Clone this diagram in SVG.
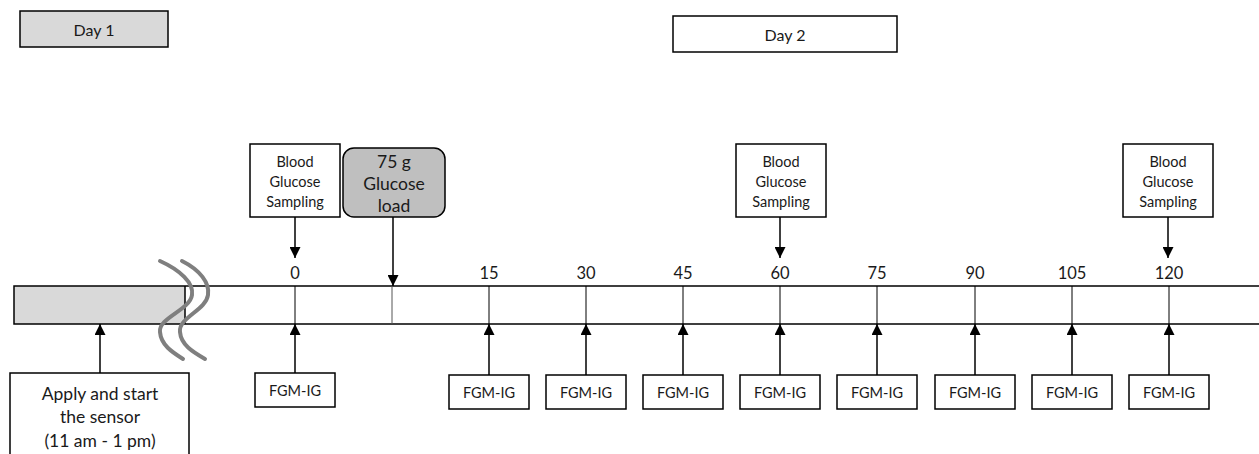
<svg xmlns="http://www.w3.org/2000/svg" width="1259" height="454" viewBox="0 0 1259 454">
<style>
text{font-family:Lato,"Liberation Sans",sans-serif;fill:#1a1a1a;text-anchor:middle;dominant-baseline:central}
.box{fill:#fff;stroke:#000;stroke-width:1.5}
.s12{font-size:14.5px}
.s13{font-size:14.5px}
.s14{font-size:16px}
.s15{font-size:16.5px}
.s17{font-size:17.5px}
.tick{stroke:#000;stroke-width:1}
.conn{stroke:#000;stroke-width:1.5;fill:none}
.brk{stroke:#7f7f7f;stroke-width:4;fill:none;stroke-linecap:round}
</style>
<defs>
<marker id="ah" viewBox="0 0 10 10" refX="10" refY="5" markerWidth="11" markerHeight="11" markerUnits="userSpaceOnUse" orient="auto">
<path d="M0,0 L10,5 L0,10 Z" fill="#000"/>
</marker>
</defs>
<rect width="1259" height="454" fill="#fff"/>

<g id="day1"><rect x="20" y="11" width="148" height="36" fill="#d9d9d9" stroke="#000" stroke-width="1.5"/><text x="94" y="29" class="s14">Day 1</text></g>
<g id="day2"><rect x="673" y="16" width="224" height="36" class="box"/><text x="785" y="34" class="s14">Day 2</text></g>

<g id="timeline">
<rect x="14" y="286" width="171" height="38" fill="#d9d9d9"/>
<path d="M1262,286 H14 V324 H1262" fill="none" stroke="#000" stroke-width="1.5"/>
<line x1="185" y1="286" x2="185" y2="324" stroke="#000" stroke-width="1.5"/>
<g class="tick">
<line x1="295" y1="286" x2="295" y2="324"/>
<line x1="392" y1="286" x2="392" y2="324" stroke="#555"/>
<line x1="489" y1="286" x2="489" y2="324"/>
<line x1="586" y1="286" x2="586" y2="324"/>
<line x1="683" y1="286" x2="683" y2="324"/>
<line x1="780" y1="286" x2="780" y2="324"/>
<line x1="877" y1="286" x2="877" y2="324"/>
<line x1="975" y1="286" x2="975" y2="324"/>
<line x1="1072" y1="286" x2="1072" y2="324"/>
<line x1="1169" y1="286" x2="1169" y2="324"/>
</g>
<path class="brk" d="M160,261 C180,270 194,283 192,295 C190,310 158,318 160,332 C161,345 172,352 183,359"/>
<path class="brk" d="M182,261 C200,270 210,283 208,295 C206,310 178,318 180,332 C181,345 193,352 205,359"/>
<g class="s15">
<text x="295" y="273">0</text>
<text x="489" y="273">15</text>
<text x="586" y="273">30</text>
<text x="683" y="273">45</text>
<text x="780" y="273">60</text>
<text x="877" y="273">75</text>
<text x="975" y="273">90</text>
<text x="1072" y="273">105</text>
<text x="1169" y="273">120</text>
</g>
</g>

<g id="bgs0"><rect x="250" y="144" width="90" height="73" class="box"/><text x="295" y="161" class="s12">Blood</text><text x="295" y="181" class="s12">Glucose</text><text x="295" y="201" class="s12">Sampling</text></g>
<g id="load"><rect x="343" y="148" width="102" height="69" rx="11" fill="#bfbfbf" stroke="#000" stroke-width="1.5"/><text x="394" y="161" class="s17">75 g</text><text x="394" y="183" class="s17">Glucose</text><text x="394" y="205" class="s17">load</text></g>
<g id="bgs60"><rect x="736" y="144" width="90" height="73" class="box"/><text x="781" y="161" class="s12">Blood</text><text x="781" y="181" class="s12">Glucose</text><text x="781" y="201" class="s12">Sampling</text></g>
<g id="bgs120"><rect x="1123" y="144" width="90" height="73" class="box"/><text x="1168" y="161" class="s12">Blood</text><text x="1168" y="181" class="s12">Glucose</text><text x="1168" y="201" class="s12">Sampling</text></g>

<g id="apply"><rect x="10" y="373" width="179" height="90" class="box"/><text x="100" y="393" class="s17">Apply and start</text><text x="100" y="416" class="s17">the sensor</text><text x="100" y="440" class="s17">(11 am - 1 pm)</text></g>

<g id="fgm0"><rect x="255" y="373" width="80" height="34" class="box"/><text x="295" y="390" class="s13">FGM-IG</text></g>
<g id="fgm15"><rect x="449" y="375" width="80" height="34" class="box"/><text x="489" y="392" class="s13">FGM-IG</text></g>
<g id="fgm30"><rect x="546" y="375" width="80" height="34" class="box"/><text x="586" y="392" class="s13">FGM-IG</text></g>
<g id="fgm45"><rect x="643" y="375" width="80" height="34" class="box"/><text x="683" y="392" class="s13">FGM-IG</text></g>
<g id="fgm60"><rect x="740" y="375" width="80" height="34" class="box"/><text x="780" y="392" class="s13">FGM-IG</text></g>
<g id="fgm75"><rect x="837" y="375" width="80" height="34" class="box"/><text x="877" y="392" class="s13">FGM-IG</text></g>
<g id="fgm90"><rect x="935" y="375" width="80" height="34" class="box"/><text x="975" y="392" class="s13">FGM-IG</text></g>
<g id="fgm105"><rect x="1032" y="375" width="80" height="34" class="box"/><text x="1072" y="392" class="s13">FGM-IG</text></g>
<g id="fgm120"><rect x="1129" y="375" width="80" height="34" class="box"/><text x="1169" y="392" class="s13">FGM-IG</text></g>

<g id="connectors" class="conn">
<line x1="295" y1="217" x2="295" y2="258" marker-end="url(#ah)"/>
<line x1="393" y1="217" x2="393" y2="286" marker-end="url(#ah)"/>
<line x1="780" y1="217" x2="780" y2="258" marker-end="url(#ah)"/>
<line x1="1168" y1="217" x2="1168" y2="258" marker-end="url(#ah)"/>
<line x1="100" y1="373" x2="100" y2="324" marker-end="url(#ah)"/>
<line x1="295" y1="373" x2="295" y2="324" marker-end="url(#ah)"/>
<line x1="489" y1="375" x2="489" y2="324" marker-end="url(#ah)"/>
<line x1="586" y1="375" x2="586" y2="324" marker-end="url(#ah)"/>
<line x1="683" y1="375" x2="683" y2="324" marker-end="url(#ah)"/>
<line x1="780" y1="375" x2="780" y2="324" marker-end="url(#ah)"/>
<line x1="877" y1="375" x2="877" y2="324" marker-end="url(#ah)"/>
<line x1="975" y1="375" x2="975" y2="324" marker-end="url(#ah)"/>
<line x1="1072" y1="375" x2="1072" y2="324" marker-end="url(#ah)"/>
<line x1="1169" y1="375" x2="1169" y2="324" marker-end="url(#ah)"/>
</g>
</svg>
